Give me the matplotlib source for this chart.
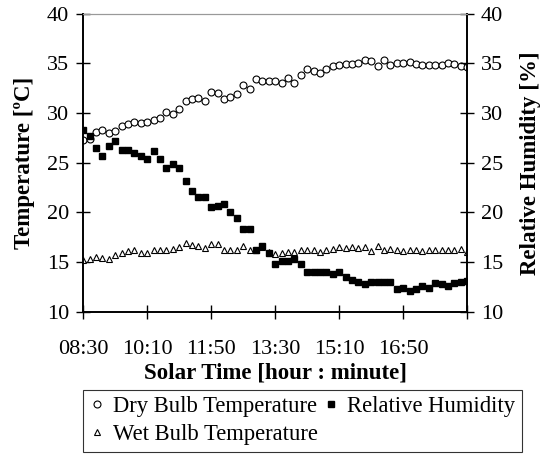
import numpy as np
import matplotlib
matplotlib.use("Agg")
import matplotlib.pyplot as plt

plt.rcParams['font.family'] = ['Liberation Serif', 'DejaVu Serif']

# minutes after 08:30, one reading every 10 min
minutes = np.arange(0, 610, 10)

dry_bulb = [27.3, 27.35, 28.1, 28.3, 28.0, 28.15, 28.7, 28.9, 29.1, 28.95,
            29.1, 29.35, 29.5, 30.1, 29.95, 30.4, 31.2, 31.4, 31.5, 31.2,
            32.1, 32.0, 31.4, 31.6, 31.9, 32.8, 32.4, 33.4, 33.25, 33.2,
            33.25, 33.05, 33.5, 33.0, 33.8, 34.4, 34.25, 34.05, 34.4, 34.7,
            34.8, 34.9, 34.9, 35.05, 35.3, 35.25, 34.7, 35.3, 34.8, 35.05,
            35.0, 35.15, 34.9, 34.85, 34.85, 34.85, 34.85, 35.0, 34.9, 34.75,
            34.65]

wet_bulb = [15.25, 15.35, 15.5, 15.45, 15.35, 15.7, 15.9, 16.1, 16.2, 15.9,
            15.9, 16.25, 16.25, 16.25, 16.35, 16.5, 16.9, 16.7, 16.6, 16.45,
            16.85, 16.85, 16.2, 16.2, 16.2, 16.6, 16.25, 16.25, 16.5, 16.0,
            15.8, 15.9, 16.0, 16.0, 16.2, 16.25, 16.2, 16.0, 16.25, 16.35,
            16.5, 16.45, 16.5, 16.45, 16.5, 16.1, 16.6, 16.25, 16.35, 16.2,
            16.1, 16.2, 16.2, 16.1, 16.2, 16.2, 16.2, 16.2, 16.2, 16.3,
            16.0]

rel_hum = [28.3, 27.7, 26.5, 25.7, 26.7, 27.2, 26.3, 26.3, 26.0, 25.65,
           25.35, 26.2, 25.35, 24.5, 24.85, 24.5, 23.2, 22.15, 21.55, 21.6,
           20.55, 20.7, 20.9, 20.0, 19.45, 18.3, 18.35, 16.25, 16.6, 15.95,
           14.85, 15.1, 15.1, 15.35, 14.8, 14.0, 14.0, 14.0, 14.0, 13.85,
           14.0, 13.5, 13.2, 13.0, 12.8, 13.05, 13.05, 13.05, 13.05, 12.3,
           12.4, 12.1, 12.3, 12.65, 12.4, 12.9, 12.8, 12.65, 12.9, 13.05,
           13.1]

tick_pos = [0, 100, 200, 300, 400, 500, 600]
tick_labels = ["08:30", "10:10", "11:50", "13:30", "15:10", "16:50", ""]

fig = plt.figure(figsize=(5.47, 4.54), dpi=100)
ax = fig.add_axes([0.152, 0.313, 0.702, 0.657])
ax2 = ax.twinx()

l1, = ax.plot(minutes, dry_bulb, 'o', ms=5.0, mfc='white', mec='black', mew=0.8,
              label="Dry Bulb Temperature")
l3, = ax.plot(minutes, wet_bulb, '^', ms=5.0, mfc='white', mec='black', mew=0.8,
              label="Wet Bulb Temperature")
l2, = ax2.plot(minutes, rel_hum, 's', ms=5.0, mfc='black', mec='black',
               label="Relative Humidity")

for a in (ax, ax2):
    a.set_xlim(0, 600)
    a.set_ylim(10, 40)
    a.set_yticks(np.arange(10, 41, 5))
    a.spines['top'].set_color('#999999')
    a.spines['top'].set_linewidth(0.8)
    for s in ('left', 'right', 'bottom'):
        a.spines[s].set_linewidth(1.2)

ax.set_xticks(tick_pos)
ax.set_xticklabels(tick_labels)
ax.tick_params(axis='x', direction='inout', length=10, width=1, pad=15, labelsize=16)
ax.tick_params(axis='y', direction='inout', length=10, width=1, pad=5, labelsize=16)
ax2.tick_params(axis='y', direction='inout', length=10, width=1, pad=5, labelsize=16)

ax.set_xlabel("Solar Time [hour : minute]", fontsize=16.5, fontweight='bold', labelpad=3)
ax.set_ylabel("Temperature [ºC]", fontsize=16.5, fontweight='bold', labelpad=9)
ax2.set_ylabel("Relative Humidity [%]", fontsize=16.5, fontweight='bold',
               rotation=90, labelpad=12)

leg = fig.legend(handles=[l1, l3, l2], loc='upper left',
                 bbox_to_anchor=(0.152, 0.142), ncol=2, fontsize=16.3,
                 frameon=True, fancybox=False, edgecolor='black',
                 handlelength=0.6, handletextpad=0.4, columnspacing=0.3,
                 borderpad=0.3, labelspacing=0.3, borderaxespad=0)
leg.get_frame().set_linewidth(0.8)

fig.savefig("out.png", dpi=100)
